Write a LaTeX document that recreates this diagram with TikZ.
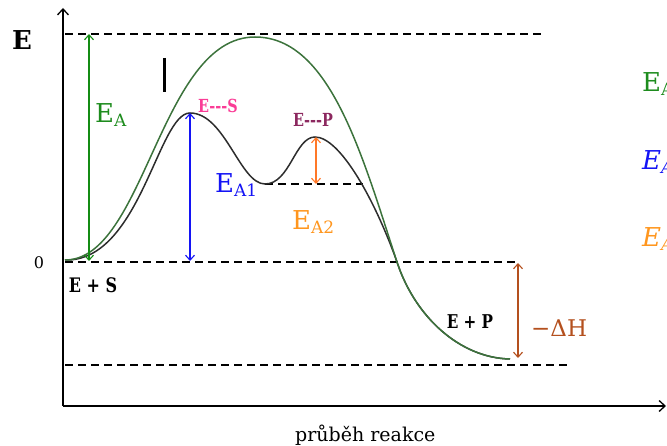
\documentclass[tikz,border=0pt]{standalone}
\usepackage{fontspec}
\setmainfont{DejaVu Serif}
\newfontfamily\bcond[FakeStretch=0.8]{DejaVu Serif}
\usetikzlibrary{arrows.meta}
\definecolor{gtext}{RGB}{30,140,30}
\definecolor{garrow}{RGB}{20,140,20}
\definecolor{gcurve}{RGB}{60,115,60}
\definecolor{bcurve}{RGB}{45,45,45}
\definecolor{blueA}{RGB}{20,20,245}
\definecolor{orarrow}{RGB}{255,120,40}
\definecolor{ortext}{RGB}{255,150,30}
\definecolor{pinkES}{RGB}{250,60,150}
\definecolor{purpEP}{RGB}{140,40,95}
\definecolor{brownH}{RGB}{180,80,30}
\newcommand{\EAlab}[1]{{\fontsize{26}{26}\selectfont E}\raisebox{-4pt}{\fontsize{17}{17}\selectfont #1}}
\begin{document}
\begin{tikzpicture}[x=1pt,y=-1pt,
  dl/.style={line width=1.2pt, dash pattern=on 8pt off 5pt},
  dim/.style={line width=1.1pt, {Straight Barb[length=5pt,width=9pt]}-{Straight Barb[length=5pt,width=9pt]}},
  axis/.style={line width=1.3pt, -{Straight Barb[length=6pt,width=11pt]}},
  lbl/.style={inner sep=0pt, anchor=base west},
  blab/.style={inner sep=0pt, font=\bcond\bfseries\fontsize{18}{18}\selectfont},
  curve/.style={line width=1.5pt},
]
\useasboundingbox (0,0) rectangle (667,446);
\clip (0,0) rectangle (667,446);
% axes
\coordinate (O) at (63,406);
\coordinate (Ytop) at (63,8);
\coordinate (Xend) at (666,406);
\draw[axis] (O) -- (Ytop);
\draw[axis] (O) -- (Xend);
% dashed levels
\coordinate (t0) at (65,34);   \coordinate (t1) at (545,34);
\coordinate (z0) at (65,262);  \coordinate (z1) at (515,262);
\coordinate (b0) at (65,365);  \coordinate (b1) at (570,365);
\coordinate (m0) at (265,184); \coordinate (m1) at (363,184);
\draw[dl] (t0) -- (t1);
\draw[dl] (z0) -- (z1);
\draw[dl] (b0) -- (b1);
\draw[dl] (m0) -- (m1);
% catalysed path (black)
\draw[curve, bcurve] (65,260)
  .. controls (140,262) and (158,113) .. (190,113)
  .. controls (225,113) and (240,184) .. (265,184)
  .. controls (290,184) and (295,137) .. (315,137)
  .. controls (340,137) and (375,200) .. (397,262)
  .. controls (415,317) and (460,358) .. (510,359);
% uncatalysed path (green)
\draw[curve, gcurve] (65,260)
  .. controls (145,260) and (160,37) .. (255,37)
  .. controls (330,37) and (362,155) .. (397,262)
  .. controls (415,317) and (460,358) .. (510,359);
% dimension arrows
\coordinate (ga0) at (89,261);  \coordinate (ga1) at (89,34);
\coordinate (ba0) at (190,261); \coordinate (ba1) at (190,113);
\coordinate (oa0) at (316,137); \coordinate (oa1) at (316,184);
\coordinate (ha0) at (518,263); \coordinate (ha1) at (518,358);
\draw[dim, garrow] (ga0) -- (ga1);
\draw[dim, blueA] (ba0) -- (ba1);
\draw[dim, orarrow] (oa0) -- (oa1);
\draw[dim, brownH] (ha0) -- (ha1);
% cursor bar
\coordinate (c0) at (164,58); \coordinate (c1) at (164,92);
\draw[line width=3pt] (c0) -- (c1);
% labels
\node[font=\bfseries\fontsize{26}{26}\selectfont, inner sep=0pt] (Elab) at (22,40) {E};
\node[font=\fontsize{16}{16}\selectfont, inner sep=0pt] (zero) at (39,263) {0};
\node[lbl, text=gtext] (ea) at (95,123) {\EAlab{A}};
\node[lbl, text=blueA] (ea1) at (215,193) {\EAlab{A1}};
\node[lbl, text=ortext] (ea2) at (292,230) {\EAlab{A2}};
\node[lbl, text=brownH, font=\fontsize{23}{23}\selectfont] (dh) at (531,337) {−ΔH};
\node[blab, text=pinkES] (es) at (218,106) {E---S};
\node[blab, text=purpEP] (ep) at (313,120) {E---P};
\node[blab, font=\bcond\bfseries\fontsize{20}{20}\selectfont] (eps) at (93,285) {E + S};
\node[blab, font=\bcond\bfseries\fontsize{19}{19}\selectfont] (epp) at (470,322) {E + P};
\node[lbl, font=\fontsize{19}{19}\selectfont] (prub) at (295,441) {průběh reakce};
% right-side labels, cut by the picture edge as in the reference
\node[lbl, text=gtext] (r1) at (642,92) {\EAlab{A}};
\node[lbl, text=blueA] (r2) at (642,170) {\itshape\EAlab{A1}};
\node[lbl, text=ortext] (r3) at (642,247) {\itshape\EAlab{A2}};
\end{tikzpicture}
\end{document}
